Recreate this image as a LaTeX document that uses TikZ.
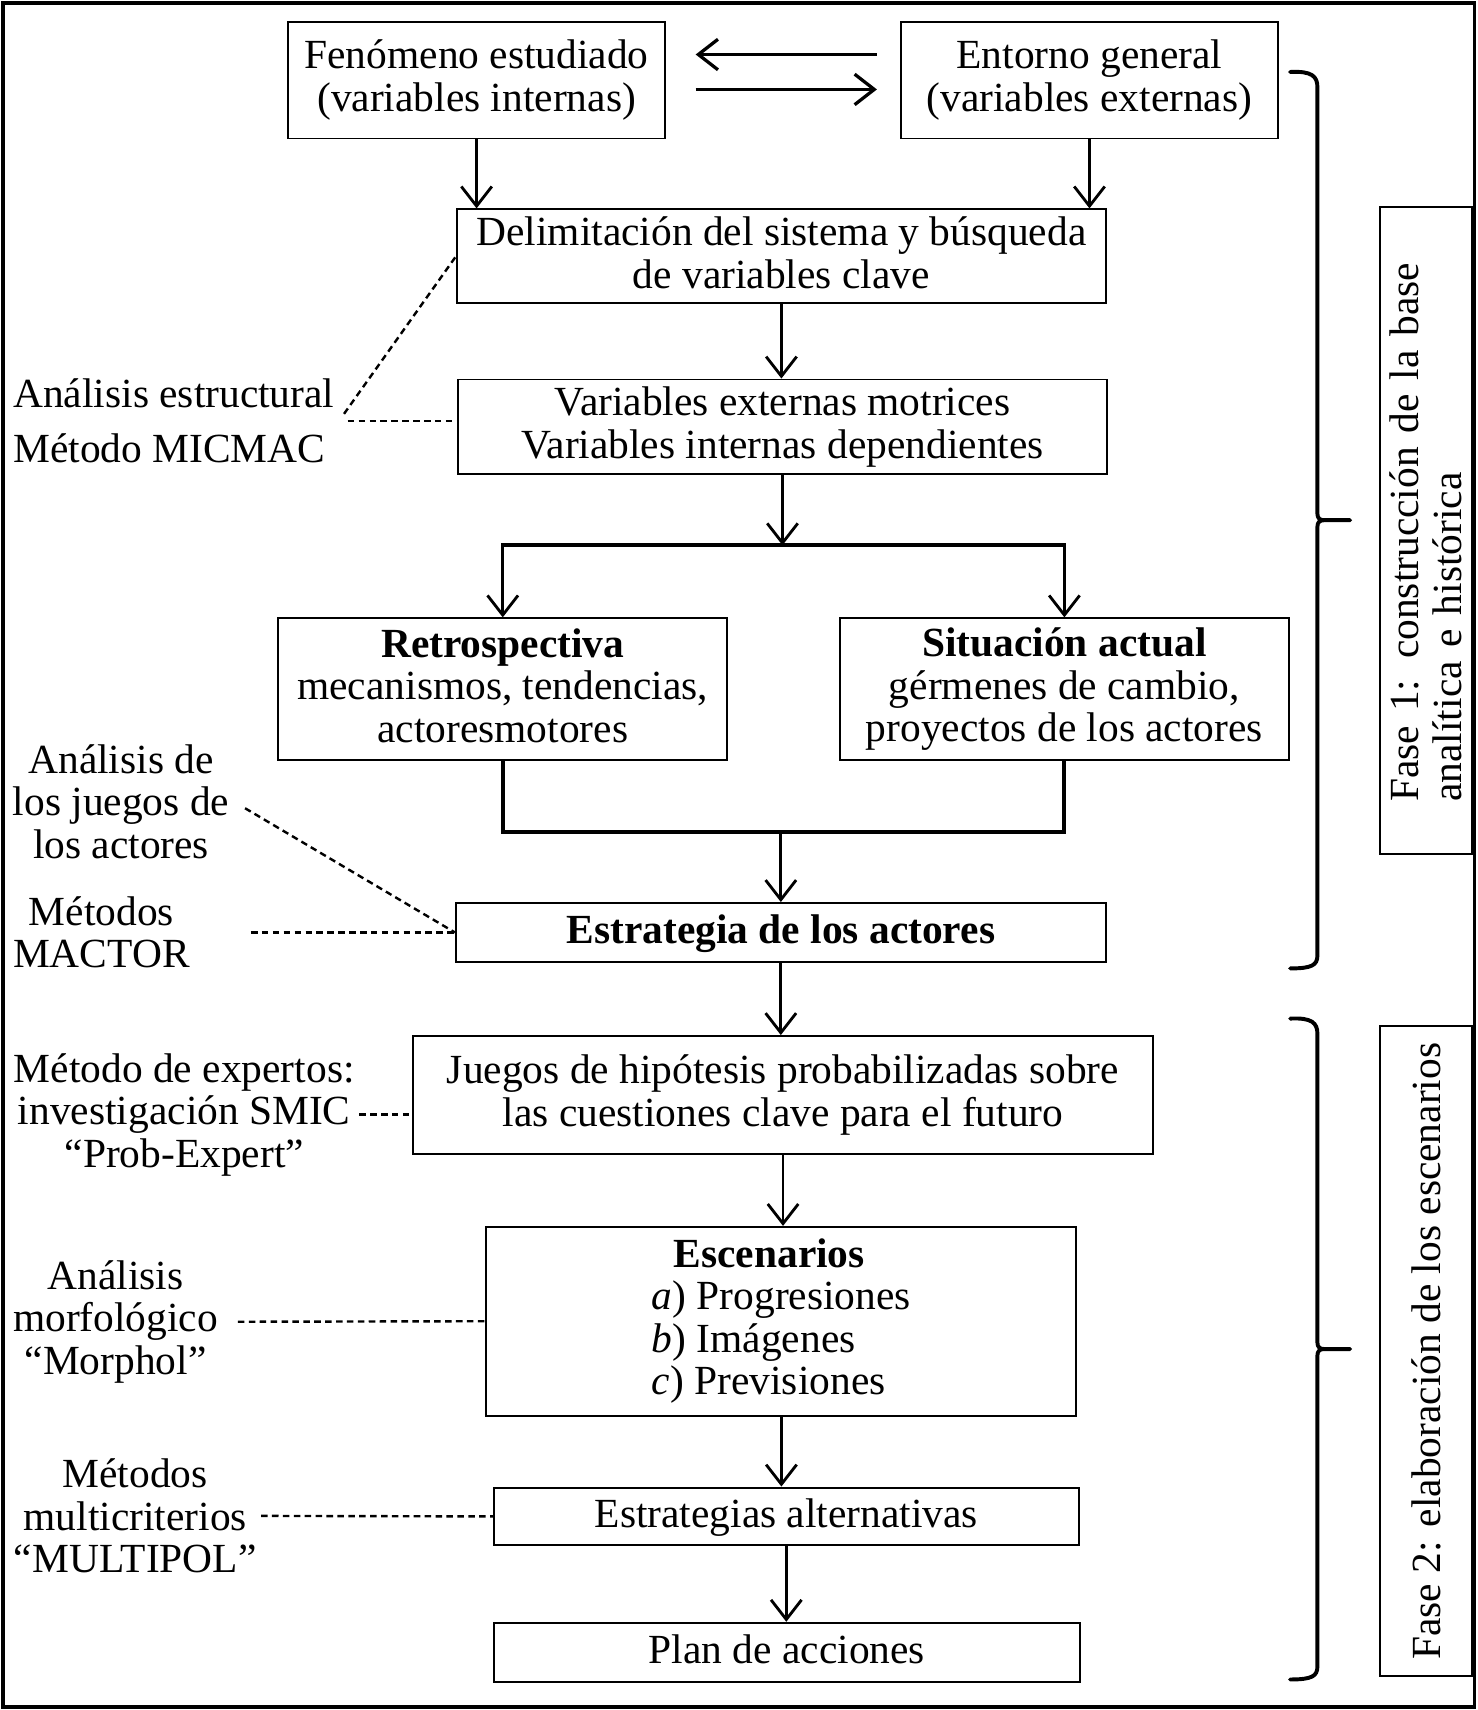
\documentclass[tikz,border=0pt]{standalone}
\usepackage{fontspec}
\setmainfont{Liberation Serif}
\usetikzlibrary{arrows.meta}
\newcommand\bxstrut{\rule[-7pt]{0pt}{35pt}}
\begin{document}
\begin{tikzpicture}[x=1pt,y=-1pt,
  font=\fontsize{38}{39}\selectfont,
  box/.style={draw,line width=1.8pt,align=center,inner sep=0pt,
    execute at begin node=\bxstrut,execute at end node=\bxstrut},
  arr/.style={-{Straight Barb[length=18pt,width=28pt]},line width=2.6pt},
  joinline/.style={line width=3.6pt,line cap=rect},
  dline/.style={line width=2.2pt,dash pattern=on 6pt off 4pt},
  lbl/.style={align=center,inner sep=4pt},
  brc/.style={line width=3.6pt,line join=round,line cap=round},
  fase/.style={draw,line width=1.8pt,rotate=90,minimum height=85pt,inner ysep=2pt}]
\useasboundingbox (0,0) rectangle (1355,1568);
\draw[line width=3.5pt] (3,3) rectangle (1352,1565);
% cajas
\node[box,minimum width=346,minimum height=107] (fen) at (437,73.5) {Fenómeno estudiado\\(variables internas)};
\node[box,minimum width=346,minimum height=107] (ent) at (999,73.5) {Entorno general\\(variables externas)};
\node[box,minimum width=595,minimum height=86] (delim) at (716.5,235) {Delimitación del sistema y búsqueda\\de variables clave};
\node[box,minimum width=595,minimum height=87] (vars) at (717.5,391.5) {Variables externas motrices\\Variables internas dependientes};
\node[box,minimum width=412,minimum height=130] (retro) at (461,632) {\textbf{Retrospectiva}\\mecanismos, tendencias,\\actoresmotores};
\node[box,minimum width=412,minimum height=130] (actual) at (976,632) {\textbf{Situación actual}\\gérmenes de cambio,\\proyectos de los actores};
\node[box,minimum width=596,minimum height=54] (estr) at (716,855) {\textbf{Estrategia de los actores}};
\node[box,minimum width=678,minimum height=108] (hip) at (718,1004) {Juegos de hipótesis probabilizadas sobre\\las cuestiones clave para el futuro};
\node[box,align=left,minimum width=541,minimum height=173] (esc) at (716.5,1211.5) {\hspace*{20pt}\textbf{Escenarios}\\\textit{a}) Progresiones\\\textit{b}) Imágenes\\\textit{c}) Previsiones};
\node[box,minimum width=536,minimum height=53] (alt) at (721,1390.5) {Estrategias alternativas};
\node[box,minimum width=537,minimum height=54] (plan) at (721.5,1515) {Plan de acciones};
% fases
\node[fase,minimum width=593,text width=497,inner xsep=48,align=left] (fase1) at (1307.5,486.5) {Fase 1: construcción de la base\\analítica e histórica};
\node[fase,minimum width=596,align=center] (fase2) at (1307.5,1239) {Fase 2: elaboración de los escenarios};
\foreach \ya/\ym/\yb in {66/477/888, 934/1237/1540}
  \draw[brc] (1183,\ya) .. controls (1203,\ya-1) and (1208,\ya+4) .. (1208,\ya+14)
    -- (1208,\ym-6) .. controls (1208,\ym-2) and (1210,\ym) .. (1214,\ym) -- (1238,\ym)
    -- (1214,\ym) .. controls (1210,\ym) and (1208,\ym+2) .. (1208,\ym+6)
    -- (1208,\yb-12) .. controls (1208,\yb-3) and (1203,\yb) .. (1183,\yb);
% metodos
\node[lbl,align=left,anchor=west] (micmac) at (8,386) {Análisis estructural\\[11pt]Método MICMAC};
\node[lbl] (juegos) at (111,735) {Análisis de\\los juegos de\\los actores};
\node[lbl] (mactor) at (93,855) {Métodos\\MACTOR};
\node[lbl] (smic) at (169,1022) {Método de expertos:\\investigación SMIC\\“Prob-Expert”};
\node[lbl] (morphol) at (106,1212) {Análisis\\morfológico\\“Morphol”};
\node[lbl] (multipol) at (124,1390) {Métodos\\multicriterios\\“MULTIPOL”};
\draw[dline,shorten <=8pt] (micmac.east) -- (micmac.east -| vars.west);
\draw[dline,shorten <=8pt] (micmac.east) -- (delim.west);
\draw[dline,shorten <=12pt] (juegos.east) -- (estr.west);
\draw[dline,shorten <=52pt] (mactor.east) -- (estr.west);
\draw[dline] (smic.east) -- (smic.east -| hip.west);
\draw[dline,shorten <=14pt] (morphol.east) -- (esc.west);
\draw[dline] (multipol.east) -- (alt.west);
% flechas
\draw[arr,line width=3pt,shorten <=21pt,shorten >=27pt] ([yshift=23.5pt]ent.west) -- ([yshift=23.5pt]fen.east);
\draw[arr,line width=3pt,shorten <=27pt,shorten >=21pt] ([yshift=-8.5pt]fen.east) -- ([yshift=-8.5pt]ent.west);
\draw[arr] (fen.south) -- (fen.south |- delim.north);
\draw[arr] (ent.south) -- (ent.south |- delim.north);
\draw[arr] (delim.south) -- (delim.south |- vars.north);
\coordinate (split) at (717.5,500);
\coordinate (merge) at (716,763);
\draw[arr] (vars.south) -- (split);
\draw[joinline] (split -| retro.north) -- (split -| actual.north);
\draw[arr] (split -| retro.north) -- (retro.north);
\draw[arr] (split -| actual.north) -- (actual.north);
\draw[joinline] (retro.south) |- (merge) -| (actual.south);
\draw[arr] (merge) -- (estr.north);
\draw[arr] (estr.south) -- (estr.south |- hip.north);
\draw[arr] (hip.south) -- (hip.south |- esc.north);
\draw[arr] (esc.south) -- (esc.south |- alt.north);
\draw[arr] (alt.south) -- (alt.south |- plan.north);
\end{tikzpicture}
\end{document}
